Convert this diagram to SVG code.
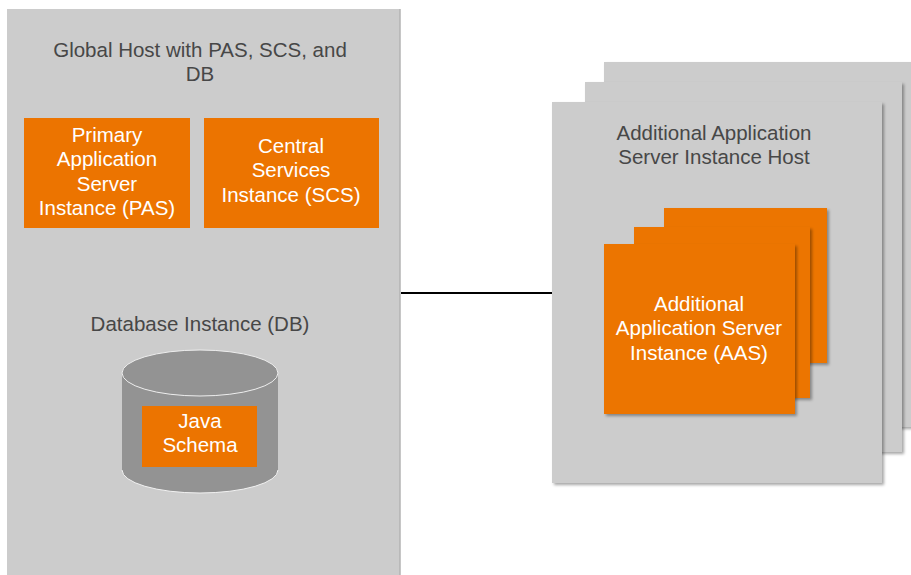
<svg xmlns="http://www.w3.org/2000/svg" width="911" height="575" viewBox="0 0 911 575">
<defs>
<style>
.host{fill:#cccccc;}
.orange{fill:#ec7400;}
.lbl{font-family:"Liberation Sans","Noto Sans",Arial,sans-serif;font-size:20.5px;fill:#474747;text-anchor:middle;}
.wlbl{font-family:"Liberation Sans","Noto Sans",Arial,sans-serif;font-size:20.5px;fill:#ffffff;text-anchor:middle;}
.conn{stroke:#000000;stroke-width:2;fill:none;}
</style>
<filter id="sh" x="-10%" y="-10%" width="125%" height="125%">
<feDropShadow dx="2" dy="2" stdDeviation="1.5" flood-color="#000000" flood-opacity="0.35"/>
</filter>
</defs>
<rect width="911" height="575" fill="#ffffff"/>

<g id="global-host">
<rect class="host" x="7" y="9" width="393" height="566"/>
<line x1="400" y1="9" x2="400" y2="575" stroke="#b3b3b3" stroke-width="1.5"/>
<text class="lbl" x="200" y="57">Global Host with PAS, SCS, and</text>
<text class="lbl" x="200" y="81">DB</text>
</g>

<g id="pas">
<rect class="orange" x="24" y="118" width="166" height="110"/>
<text class="wlbl" x="107" y="142">Primary</text>
<text class="wlbl" x="107" y="166">Application</text>
<text class="wlbl" x="107" y="191">Server</text>
<text class="wlbl" x="107" y="215">Instance (PAS)</text>
</g>

<g id="scs">
<rect class="orange" x="204" y="118" width="175" height="110"/>
<text class="wlbl" x="291" y="153">Central</text>
<text class="wlbl" x="291" y="177">Services</text>
<text class="wlbl" x="291" y="202">Instance (SCS)</text>
</g>

<g id="db">
<text class="lbl" x="200" y="331">Database Instance (DB)</text>
<path d="M122,373 L122,470 A78,23 0 0 0 278,470 L278,373 Z" fill="#939393"/>
<path d="M122,470 A78,23 0 0 0 278,470" fill="none" stroke="#f2f2f2" stroke-width="1"/>
<ellipse cx="200" cy="373" rx="78" ry="23" fill="#939393" stroke="#eeeeee" stroke-width="1"/>
</g>

<g id="java-schema">
<rect class="orange" x="142" y="406" width="115" height="61"/>
<text class="wlbl" x="200" y="428">Java</text>
<text class="wlbl" x="200" y="452">Schema</text>
</g>

<g id="connectors">
<line class="conn" x1="401" y1="293" x2="553" y2="293"/>
</g>

<g id="aas-host">
<rect class="host" x="604" y="62" width="310" height="365" filter="url(#sh)"/>
<rect class="host" x="585" y="82" width="317" height="370" filter="url(#sh)"/>
<rect class="host" x="552" y="102" width="330" height="381" filter="url(#sh)"/>
<text class="lbl" x="714" y="140">Additional Application</text>
<text class="lbl" x="714" y="164">Server Instance Host</text>
</g>

<g id="aas">
<rect class="orange" x="664" y="208" width="163" height="155" filter="url(#sh)"/>
<rect class="orange" x="634" y="227" width="176" height="171" filter="url(#sh)"/>
<rect class="orange" x="604" y="244" width="191" height="170" filter="url(#sh)"/>
<text class="wlbl" x="699" y="311">Additional</text>
<text class="wlbl" x="699" y="335">Application Server</text>
<text class="wlbl" x="699" y="360">Instance (AAS)</text>
</g>
</svg>
